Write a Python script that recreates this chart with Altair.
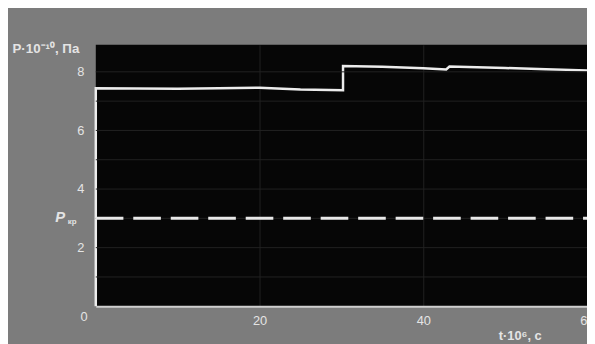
import altair as alt
import pandas as pd

# trace data (t·10^6 s, P·10^-10 Pa)
t_vals = [0, 0, 5, 10, 15, 20, 25, 30.2, 30.2, 35, 40, 42.8, 43.2, 50, 55, 60]
p_vals = [0, 7.44, 7.43, 7.42, 7.44, 7.46, 7.40, 7.37, 8.20, 8.17, 8.12, 8.08, 8.18, 8.13, 8.09, 8.05]
p_kr = 3.0
x_ticks = [20, 40, 60]
y_ticks = [2, 4, 6, 8]
y_grid = [1, 2, 3, 4, 5, 6, 7, 8]

trace = pd.DataFrame({"t": t_vals, "p": p_vals, "i": list(range(len(t_vals)))})
crit = pd.DataFrame({"t": [0], "t2": [60], "p": [p_kr]})
zero = pd.DataFrame({"t": [0], "p": [0], "lab": ["0"]})
grid = pd.DataFrame({"p": y_grid})

FG = "#e4e4e4"
x_scale = alt.Scale(domain=[0, 60], nice=False, zero=False)
y_scale = alt.Scale(domain=[0, 8.92], nice=False)

x_axis = alt.Axis(values=x_ticks, grid=True, gridColor="#222222", gridWidth=1,
                  ticks=False, domain=True, domainColor="#cfcfcf", domainWidth=2,
                  labelColor=FG, labelFontSize=13, labelFont="Liberation Sans",
                  labelPadding=9, labelFlush=False, labelOverlap=False,
                  title="t·10⁶, с", titleColor=FG, titleFontSize=13,
                  titleFont="Liberation Sans", titleFontWeight="bold",
                  titleX=408, titleY=30, titleAlign="left", titleBaseline="middle",
                  titleAnchor="start")
y_axis = alt.Axis(values=y_ticks, grid=False,
                  ticks=False, domain=False, labelOverlap=False,
                  labelColor=FG, labelFontSize=13, labelFont="Liberation Sans",
                  labelPadding=12,
                  title="P·10⁻¹⁰, Па", titleColor=FG, titleFontSize=13.5,
                  titleFont="Liberation Sans", titleFontWeight="bold",
                  titleAngle=0, titleX=-85, titleY=4, titleAlign="left",
                  titleBaseline="middle", titleAnchor="start")

line = alt.Chart(trace).mark_line(color="#ececec", strokeWidth=2.5).encode(
    x=alt.X("t:Q", scale=x_scale, axis=x_axis),
    y=alt.Y("p:Q", scale=y_scale, axis=y_axis),
    order="i:Q",
)

grid_lines = alt.Chart(grid).mark_rule(color="#222222", strokeWidth=1).encode(
    y="p:Q"
)

dash = alt.Chart(crit).mark_rule(color="#e8e8e8", strokeWidth=3, strokeDash=[28, 10]).encode(
    x="t:Q", x2="t2:Q", y="p:Q"
)

zero_lab = alt.Chart(zero).mark_text(color=FG, fontSize=13, font="Liberation Sans",
                                     dx=-12, dy=11).encode(
    x="t:Q", y="p:Q", text="lab:N"
)

pkr_p = alt.Chart(crit).mark_text(text="P", color=FG, fontSize=15, fontStyle="italic",
                                  font="Liberation Sans", fontWeight="bold",
                                  dx=-36, dy=-1).encode(x="t:Q", y="p:Q")
pkr_sub = alt.Chart(crit).mark_text(text="кр", color=FG, fontSize=8,
                                    font="Liberation Sans", fontWeight="bold",
                                    dx=-24, dy=4).encode(x="t:Q", y="p:Q")

chart = alt.layer(line, grid_lines, dash, zero_lab, pkr_p, pkr_sub).properties(
    width=498, height=265,
    autosize=alt.AutoSizeParams(type="none"),
    padding={"left": 89, "top": 35, "right": 0, "bottom": 45},
    background="#7c7c7c",
).configure_view(fill="#060606", stroke=None)

chart.save("out.html", embed_options={"renderer": "svg", "actions": False})
